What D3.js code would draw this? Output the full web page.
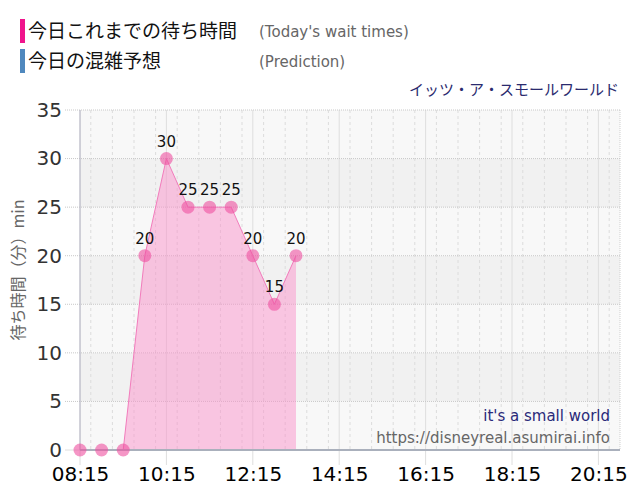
<!DOCTYPE html>
<html><head><meta charset="utf-8">
<script src="https://cdn.jsdelivr.net/npm/d3@7"></script>
<style>body{margin:0;background:#fff}svg{display:block}</style>
</head><body>
<script>
const times = ["08:15","08:45","09:15","09:45","10:15","10:45","11:15","11:45","12:15","12:45","13:15"];
const waits = [0,0,0,20,30,25,25,25,20,15,20];
const xTickLabels = ["08:15","10:15","12:15","14:15","16:15","18:15","20:15"];
const yTicks = [0,5,10,15,20,25,30,35];
const legendJa = ["今日これまでの待ち時間","今日の混雑予想"];
const legendEn = ["(Today's wait times)","(Prediction)"];
const legendColors = ["#f0148c","#4f88be"];
const title = "イッツ・ア・スモールワールド";
const yLabel = "待ち時間（分）min";
const footer = ["it's a small world","https://disneyreal.asumirai.info"];

const W=640,H=500;
const parse=d3.timeParse("%H:%M");
const svg=d3.select("body").append("svg").attr("width",W).attr("height",H);
const L=80,R=620,T=110,B=450;
const x=d3.scaleTime().domain([parse("08:15"),parse("20:45")]).range([L,R]);
const y=d3.scaleLinear().domain([0,35]).range([B,T]);
const data=times.map((t,i)=>({t:parse(t),v:waits[i]}));
const latin="'DejaVu Sans', Verdana, sans-serif";
const ja="'Noto Sans CJK JP', sans-serif";

// bands
for(let i=0;i<yTicks.length-1;i++){
  svg.append("rect").attr("x",L).attr("width",R-L)
    .attr("y",y(yTicks[i+1])).attr("height",y(yTicks[i])-y(yTicks[i+1]))
    .attr("fill",(i%2===0)?"#f8f8f8":"#f1f1f1");
}
// minor dashed verticals every 30 min
const minor=d3.timeMinute.every(30).range(parse("08:15"),parse("20:46"));
svg.append("g").selectAll("line").data(minor).join("line")
  .attr("x1",d=>x(d)).attr("x2",d=>x(d)).attr("y1",T).attr("y2",B)
  .attr("stroke","#dcdcdc").attr("stroke-dasharray","3,3");
// right border dotted
svg.append("line").attr("x1",R).attr("x2",R).attr("y1",T).attr("y2",B)
  .attr("stroke","#cfcfcf").attr("stroke-dasharray","1,1");
// major x grid
svg.append("g").selectAll("line").data(xTickLabels.map(parse)).join("line")
  .attr("x1",d=>x(d)).attr("x2",d=>x(d)).attr("y1",T).attr("y2",B+15)
  .attr("stroke","#dedede");
// horizontal dotted grid
svg.append("g").selectAll("line").data(yTicks.slice(1)).join("line")
  .attr("x1",L-15).attr("x2",R).attr("y1",d=>y(d)).attr("y2",d=>y(d))
  .attr("stroke","#c8c8c8").attr("stroke-dasharray","1,1");
svg.append("line").attr("x1",L-15).attr("x2",L).attr("y1",B).attr("y2",B).attr("stroke","#dedede");

// axis lines
svg.append("line").attr("x1",L).attr("x2",L).attr("y1",T).attr("y2",B).attr("stroke","#b4b4c4");

// y axis labels
const yAxis=d3.axisLeft(y).tickValues(yTicks).tickSize(0).tickPadding(18);
const gy=svg.append("g").attr("transform",`translate(${L},0)`).call(yAxis);
gy.select(".domain").remove();
gy.selectAll("text").attr("font-family",latin).attr("font-size",20).attr("fill","#333");

// x axis labels
const xAxis=d3.axisBottom(x).tickValues(xTickLabels.map(parse)).tickFormat(d3.timeFormat("%H:%M")).tickSize(0).tickPadding(17);
const gx=svg.append("g").attr("transform",`translate(0,${B})`).call(xAxis);
gx.select(".domain").remove();
gx.selectAll("text").attr("font-family",latin).attr("font-size",20).attr("fill","#000");

// area + line
svg.append("path").datum(data)
  .attr("d",d3.area().x(d=>x(d.t)).y0(y(0)).y1(d=>y(d.v)))
  .attr("fill","rgba(250,140,200,0.47)");
svg.append("path").datum(data)
  .attr("d",d3.line().x(d=>x(d.t)).y(d=>y(d.v)))
  .attr("fill","none").attr("stroke","#f27cbc").attr("stroke-width",1);
svg.append("line").attr("x1",L).attr("x2",R).attr("y1",B).attr("y2",B).attr("stroke","#aab0bc").attr("stroke-width",2);
svg.append("g").selectAll("circle").data(data).join("circle")
  .attr("cx",d=>x(d.t)).attr("cy",d=>y(d.v)).attr("r",6.5)
  .attr("fill","rgba(238,80,160,0.6)");
svg.append("g").selectAll("text").data(data.filter(d=>d.v>0)).join("text")
  .attr("x",d=>x(d.t)).attr("y",d=>y(d.v)-12).attr("text-anchor","middle")
  .attr("font-family",latin).attr("font-size",15).attr("fill","#111").text(d=>d.v);

// legend
legendJa.forEach((t,i)=>{
  const yy=19+i*30;
  svg.append("rect").attr("x",20).attr("y",yy).attr("width",5).attr("height",24).attr("fill",legendColors[i]);
  svg.append("text").attr("x",28).attr("y",yy+19).attr("font-family",ja).attr("font-size",19).attr("fill","#111").text(t);
  svg.append("text").attr("x",259).attr("y",yy+18).attr("font-family",latin).attr("font-size",15).attr("fill","#666").text(legendEn[i]);
});
// title
svg.append("text").attr("x",619).attr("y",95).attr("text-anchor","end").attr("font-family",ja).attr("font-size",15).attr("fill","#2a2a6e").text(title);
// y label
svg.append("text").attr("transform","translate(24,270) rotate(-90)").attr("text-anchor","middle")
  .attr("font-family",ja).attr("font-size",16).attr("fill","#666").text(yLabel);
// footer
svg.append("text").attr("x",610).attr("y",421).attr("text-anchor","end").attr("font-family",latin).attr("font-size",15).attr("fill","#2a2a7a").text(footer[0]);
svg.append("text").attr("x",610).attr("y",443).attr("text-anchor","end").attr("font-family",latin).attr("font-size",15).attr("fill","#666").text(footer[1]);
</script>
</body></html>
